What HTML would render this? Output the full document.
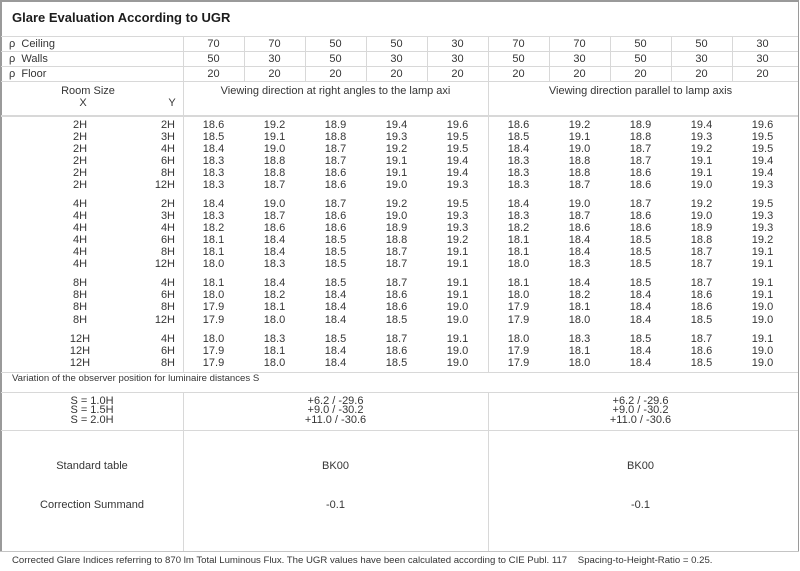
<!DOCTYPE html>
<html><head><meta charset="utf-8"><style>
*{margin:0;padding:0;box-sizing:border-box}
html,body{width:800px;height:571px;background:#fff;overflow:hidden}
body{position:relative;font-family:"Liberation Sans",Arial,sans-serif;font-size:11px;color:#353535}
.h{position:absolute;height:1px;background:#d8d8d8}
.vl{position:absolute;width:1px;background:#d8d8d8}
.t{position:absolute;white-space:nowrap;line-height:12px}
.c{position:absolute;white-space:nowrap;line-height:12px;text-align:center}
.r{position:absolute;left:0;width:800px;height:12px;line-height:12px}
.r .x{position:absolute;left:50px;width:60px;text-align:center}
.r .y{position:absolute;left:115px;width:60px;text-align:right}
.r .vals{position:absolute;left:183px;display:flex}
.r .vals span{display:block;width:61px;text-align:center}
.r .vals2{left:488px}
</style></head><body>
<!-- outer border -->
<div style="position:absolute;left:0;top:0;width:799px;height:1.5px;background:#9a9a9a"></div>
<div style="position:absolute;left:0;top:0;width:1.5px;height:552px;background:#9a9a9a"></div>
<div style="position:absolute;left:797.5px;top:0;width:1.5px;height:552px;background:#9a9a9a"></div>

<div class="t" style="left:12px;top:11px;font-size:13px;font-weight:bold;color:#1c1c1c;line-height:14px">Glare Evaluation According to UGR</div>

<!-- horizontal lines -->
<div class="h" style="left:1px;width:797px;top:36px"></div>
<div class="h" style="left:1px;width:797px;top:51px"></div>
<div class="h" style="left:1px;width:797px;top:66px"></div>
<div class="h" style="left:1px;width:797px;top:81px"></div>
<div class="h" style="left:1px;width:797px;top:115px;height:1.5px"></div>
<div class="h" style="left:1px;width:797px;top:372px"></div>
<div class="h" style="left:1px;width:797px;top:392px"></div>
<div class="h" style="left:1px;width:797px;top:430px"></div>
<div class="h" style="left:0;width:799px;top:551px;background:#c4c4c4"></div>

<!-- vertical lines -->
<div class="vl" style="left:183px;top:36px;height:336px"></div>
<div class="vl" style="left:488px;top:36px;height:336px"></div>
<div class="vl" style="left:183px;top:392px;height:159px"></div>
<div class="vl" style="left:488px;top:392px;height:159px"></div>
<div class="vl" style="left:244px;top:36px;height:45px"></div>
<div class="vl" style="left:305px;top:36px;height:45px"></div>
<div class="vl" style="left:366px;top:36px;height:45px"></div>
<div class="vl" style="left:427px;top:36px;height:45px"></div>
<div class="vl" style="left:549px;top:36px;height:45px"></div>
<div class="vl" style="left:610px;top:36px;height:45px"></div>
<div class="vl" style="left:671px;top:36px;height:45px"></div>
<div class="vl" style="left:732px;top:36px;height:45px"></div>

<!-- reflectance rows -->
<div class="r" style="top:38px"><span class="t" style="left:9px">ρ&nbsp; Ceiling</span>
<div class="vals"><span>70</span><span>70</span><span>50</span><span>50</span><span>30</span></div>
<div class="vals vals2"><span>70</span><span>70</span><span>50</span><span>50</span><span>30</span></div></div>
<div class="r" style="top:53px"><span class="t" style="left:9px">ρ&nbsp; Walls</span>
<div class="vals"><span>50</span><span>30</span><span>50</span><span>30</span><span>30</span></div>
<div class="vals vals2"><span>50</span><span>30</span><span>50</span><span>30</span><span>30</span></div></div>
<div class="r" style="top:68px"><span class="t" style="left:9px">ρ&nbsp; Floor</span>
<div class="vals"><span>20</span><span>20</span><span>20</span><span>20</span><span>20</span></div>
<div class="vals vals2"><span>20</span><span>20</span><span>20</span><span>20</span><span>20</span></div></div>

<!-- header -->
<div class="c" style="left:38px;width:100px;top:85px">Room Size</div>
<div class="c" style="left:73px;width:20px;top:97px">X</div>
<div class="c" style="left:162px;width:20px;top:97px">Y</div>
<div class="c" style="left:183px;width:305px;top:85px">Viewing direction at right angles to the lamp axi</div>
<div class="c" style="left:488px;width:305px;top:85px">Viewing direction parallel to lamp axis</div>

<!-- data rows -->
<div class="r" style="top:118.8px"><span class="x">2H</span><span class="y">2H</span><div class="vals"><span>18.6</span><span>19.2</span><span>18.9</span><span>19.4</span><span>19.6</span></div><div class="vals vals2"><span>18.6</span><span>19.2</span><span>18.9</span><span>19.4</span><span>19.6</span></div></div>
<div class="r" style="top:130.9px"><span class="x">2H</span><span class="y">3H</span><div class="vals"><span>18.5</span><span>19.1</span><span>18.8</span><span>19.3</span><span>19.5</span></div><div class="vals vals2"><span>18.5</span><span>19.1</span><span>18.8</span><span>19.3</span><span>19.5</span></div></div>
<div class="r" style="top:143px"><span class="x">2H</span><span class="y">4H</span><div class="vals"><span>18.4</span><span>19.0</span><span>18.7</span><span>19.2</span><span>19.5</span></div><div class="vals vals2"><span>18.4</span><span>19.0</span><span>18.7</span><span>19.2</span><span>19.5</span></div></div>
<div class="r" style="top:155.1px"><span class="x">2H</span><span class="y">6H</span><div class="vals"><span>18.3</span><span>18.8</span><span>18.7</span><span>19.1</span><span>19.4</span></div><div class="vals vals2"><span>18.3</span><span>18.8</span><span>18.7</span><span>19.1</span><span>19.4</span></div></div>
<div class="r" style="top:167.2px"><span class="x">2H</span><span class="y">8H</span><div class="vals"><span>18.3</span><span>18.8</span><span>18.6</span><span>19.1</span><span>19.4</span></div><div class="vals vals2"><span>18.3</span><span>18.8</span><span>18.6</span><span>19.1</span><span>19.4</span></div></div>
<div class="r" style="top:179.3px"><span class="x">2H</span><span class="y">12H</span><div class="vals"><span>18.3</span><span>18.7</span><span>18.6</span><span>19.0</span><span>19.3</span></div><div class="vals vals2"><span>18.3</span><span>18.7</span><span>18.6</span><span>19.0</span><span>19.3</span></div></div>

<div class="r" style="top:197.5px"><span class="x">4H</span><span class="y">2H</span><div class="vals"><span>18.4</span><span>19.0</span><span>18.7</span><span>19.2</span><span>19.5</span></div><div class="vals vals2"><span>18.4</span><span>19.0</span><span>18.7</span><span>19.2</span><span>19.5</span></div></div>
<div class="r" style="top:209.6px"><span class="x">4H</span><span class="y">3H</span><div class="vals"><span>18.3</span><span>18.7</span><span>18.6</span><span>19.0</span><span>19.3</span></div><div class="vals vals2"><span>18.3</span><span>18.7</span><span>18.6</span><span>19.0</span><span>19.3</span></div></div>
<div class="r" style="top:221.7px"><span class="x">4H</span><span class="y">4H</span><div class="vals"><span>18.2</span><span>18.6</span><span>18.6</span><span>18.9</span><span>19.3</span></div><div class="vals vals2"><span>18.2</span><span>18.6</span><span>18.6</span><span>18.9</span><span>19.3</span></div></div>
<div class="r" style="top:233.8px"><span class="x">4H</span><span class="y">6H</span><div class="vals"><span>18.1</span><span>18.4</span><span>18.5</span><span>18.8</span><span>19.2</span></div><div class="vals vals2"><span>18.1</span><span>18.4</span><span>18.5</span><span>18.8</span><span>19.2</span></div></div>
<div class="r" style="top:245.9px"><span class="x">4H</span><span class="y">8H</span><div class="vals"><span>18.1</span><span>18.4</span><span>18.5</span><span>18.7</span><span>19.1</span></div><div class="vals vals2"><span>18.1</span><span>18.4</span><span>18.5</span><span>18.7</span><span>19.1</span></div></div>
<div class="r" style="top:258px"><span class="x">4H</span><span class="y">12H</span><div class="vals"><span>18.0</span><span>18.3</span><span>18.5</span><span>18.7</span><span>19.1</span></div><div class="vals vals2"><span>18.0</span><span>18.3</span><span>18.5</span><span>18.7</span><span>19.1</span></div></div>

<div class="r" style="top:277.2px"><span class="x">8H</span><span class="y">4H</span><div class="vals"><span>18.1</span><span>18.4</span><span>18.5</span><span>18.7</span><span>19.1</span></div><div class="vals vals2"><span>18.1</span><span>18.4</span><span>18.5</span><span>18.7</span><span>19.1</span></div></div>
<div class="r" style="top:289.3px"><span class="x">8H</span><span class="y">6H</span><div class="vals"><span>18.0</span><span>18.2</span><span>18.4</span><span>18.6</span><span>19.1</span></div><div class="vals vals2"><span>18.0</span><span>18.2</span><span>18.4</span><span>18.6</span><span>19.1</span></div></div>
<div class="r" style="top:301.4px"><span class="x">8H</span><span class="y">8H</span><div class="vals"><span>17.9</span><span>18.1</span><span>18.4</span><span>18.6</span><span>19.0</span></div><div class="vals vals2"><span>17.9</span><span>18.1</span><span>18.4</span><span>18.6</span><span>19.0</span></div></div>
<div class="r" style="top:313.5px"><span class="x">8H</span><span class="y">12H</span><div class="vals"><span>17.9</span><span>18.0</span><span>18.4</span><span>18.5</span><span>19.0</span></div><div class="vals vals2"><span>17.9</span><span>18.0</span><span>18.4</span><span>18.5</span><span>19.0</span></div></div>

<div class="r" style="top:332.8px"><span class="x">12H</span><span class="y">4H</span><div class="vals"><span>18.0</span><span>18.3</span><span>18.5</span><span>18.7</span><span>19.1</span></div><div class="vals vals2"><span>18.0</span><span>18.3</span><span>18.5</span><span>18.7</span><span>19.1</span></div></div>
<div class="r" style="top:344.9px"><span class="x">12H</span><span class="y">6H</span><div class="vals"><span>17.9</span><span>18.1</span><span>18.4</span><span>18.6</span><span>19.0</span></div><div class="vals vals2"><span>17.9</span><span>18.1</span><span>18.4</span><span>18.6</span><span>19.0</span></div></div>
<div class="r" style="top:357px"><span class="x">12H</span><span class="y">8H</span><div class="vals"><span>17.9</span><span>18.0</span><span>18.4</span><span>18.5</span><span>19.0</span></div><div class="vals vals2"><span>17.9</span><span>18.0</span><span>18.4</span><span>18.5</span><span>19.0</span></div></div>

<!-- variation -->
<div class="t" style="left:12px;top:373px;font-size:9.6px">Variation of the observer position for luminaire distances S</div>

<div class="c" style="left:42px;width:100px;top:396.5px;line-height:9.5px">S = 1.0H<br>S = 1.5H<br>S = 2.0H</div>
<div class="c" style="left:183px;width:305px;top:396.5px;line-height:9.5px">+6.2 / -29.6<br>+9.0 / -30.2<br>+11.0 / -30.6</div>
<div class="c" style="left:488px;width:305px;top:396.5px;line-height:9.5px">+6.2 / -29.6<br>+9.0 / -30.2<br>+11.0 / -30.6</div>

<div class="c" style="left:22px;width:140px;top:459.5px">Standard table</div>
<div class="c" style="left:183px;width:305px;top:459.5px">BK00</div>
<div class="c" style="left:488px;width:305px;top:459.5px">BK00</div>
<div class="c" style="left:12px;width:160px;top:498.5px">Correction Summand</div>
<div class="c" style="left:183px;width:305px;top:498.5px">-0.1</div>
<div class="c" style="left:488px;width:305px;top:498.5px">-0.1</div>

<div class="t" style="left:12px;top:555px;font-size:9.6px">Corrected Glare Indices referring to 870 lm Total Luminous Flux. The UGR values have been calculated according to CIE Publ. 117&nbsp;&nbsp;&nbsp; Spacing-to-Height-Ratio = 0.25.</div>
</body></html>
